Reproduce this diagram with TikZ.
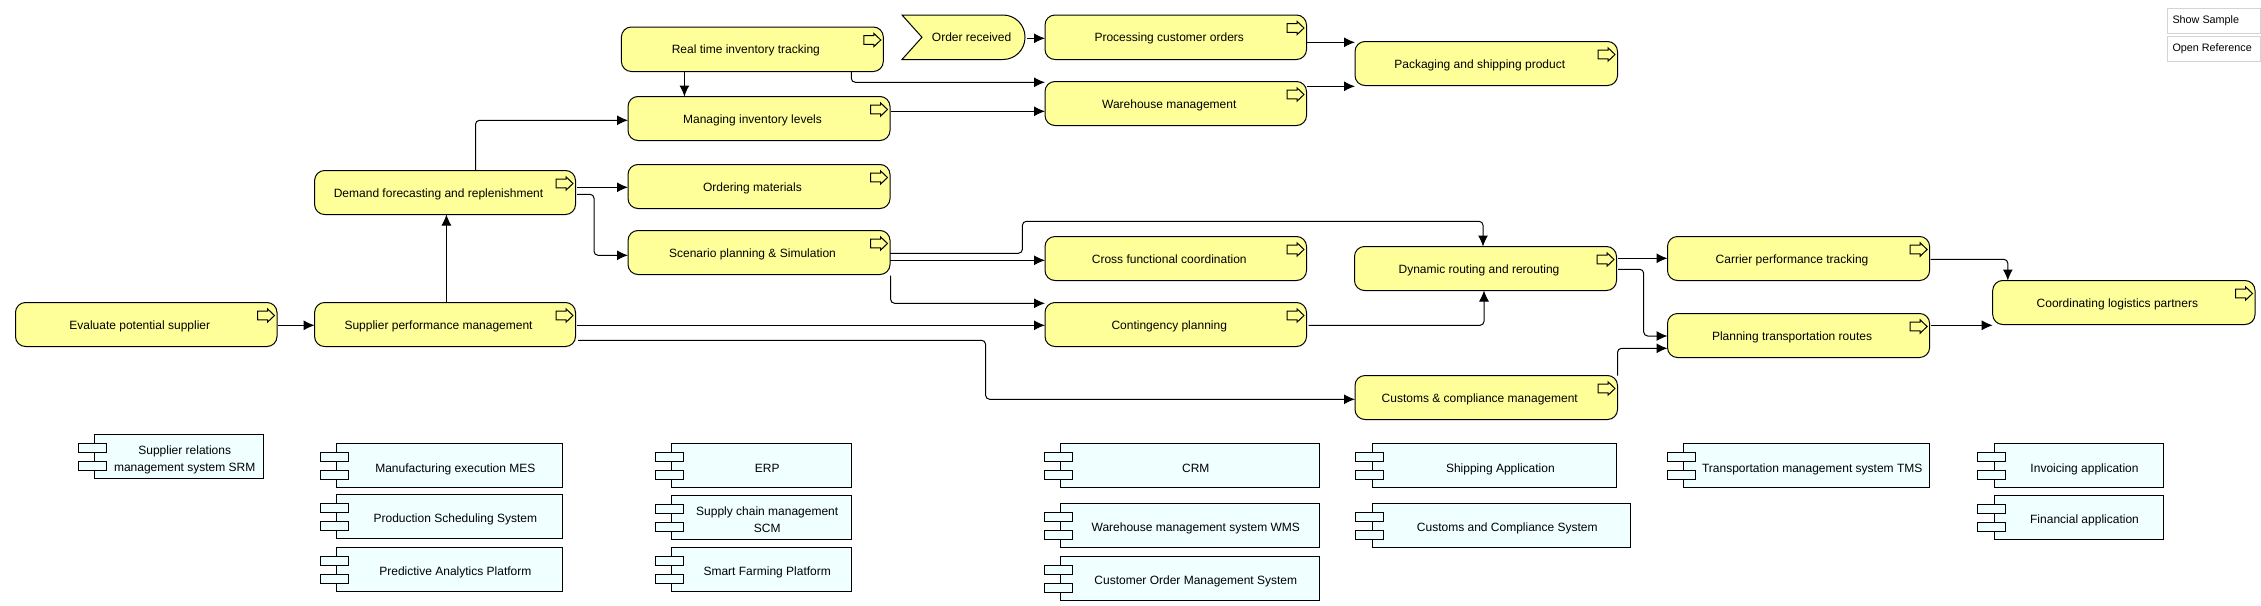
\documentclass[tikz,border=0pt]{standalone}
\usepackage{fontspec}
\setmainfont{Liberation Sans}
\usetikzlibrary{arrows.meta}
\definecolor{procfill}{HTML}{FFFF99}
\definecolor{compfill}{HTML}{F0FFFF}
\definecolor{btnline}{HTML}{D4D4D4}
\tikzset{
  every node/.style={inner sep=0pt,outer sep=0pt},
  shapeline/.style={draw=black,line width=1pt},
  procbox/.style={shapeline,fill=procfill,rounded corners=10pt,anchor=north west},
  compbox/.style={shapeline,fill=compfill,anchor=north west},
  tabrect/.style={shapeline,fill=compfill},
  lbl/.style={font=\fontsize{12}{17.5}\selectfont,align=center,text=black},
  flow/.style={line width=1pt,rounded corners=4pt,-{Latex[length=11pt,width=10pt]}},
  btn/.style={draw=btnline,line width=1pt,fill=white,anchor=north west,minimum width=93pt,minimum height=25pt,font=\fontsize{10.8}{13}\selectfont}
}
\newcommand{\procicon}[1]{%
  \begin{scope}[shift={(#1.north east)}]
    \draw[shapeline,fill=procfill] (-19.5,8.7) -- (-9.5,8.7) -- (-9.5,6.3) -- (-2.5,13) -- (-9.5,19.7) -- (-9.5,17.3) -- (-19.5,17.3) -- cycle;
  \end{scope}}
\newcommand{\proc}[6]{%
  \node[procbox,minimum width=#4-#2,minimum height=#5-#3] (#1) at (#2,#3) {};
  \node[lbl] (#1-t) at ([xshift=-6.5pt,yshift=-1pt]#1.center) {#6\strut};
  \procicon{#1}}
\newcommand{\comp}[6]{%
  \node[compbox,minimum width=#4-#2,minimum height=#5-#3] (#1) at (#2,#3) {};
  \begin{scope}[shift={(#1.north west)}]
    \draw[tabrect] (-16.3,9) rectangle (11.8,18);
    \draw[tabrect] (-16.3,27) rectangle (11.8,36);
  \end{scope}
  \node[lbl] (#1-t) at ([xshift=6pt,yshift=-3pt]#1.center) {#6\strut};}
\begin{document}
\begin{tikzpicture}[x=1pt,y=-1pt]
\useasboundingbox (0,0) rectangle (2261,605);
\proc{eva}{15.5}{302.5}{277}{346.5}{Evaluate potential supplier}
\proc{sup}{314.6}{302.5}{575.5}{346.5}{Supplier performance management}
\proc{dem}{314.6}{170.5}{575.5}{214.5}{Demand forecasting and replenishment}
\proc{rea}{621.4}{27}{883.3}{71.5}{Real time inventory tracking}
\proc{man}{628}{96.5}{890}{140.5}{Managing inventory levels}
\proc{ord}{628}{164.5}{890}{208.5}{Ordering materials}
\proc{sce}{628}{230.5}{890}{274.5}{Scenario planning \& Simulation}
\proc{pro}{1045}{15}{1306.5}{59.5}{Processing customer orders}
\proc{war}{1045}{81.5}{1306.5}{125.5}{Warehouse management}
\proc{pac}{1355}{41.5}{1617.5}{85.5}{Packaging and shipping product}
\proc{cro}{1045}{236.5}{1306.5}{280.5}{Cross functional coordination}
\proc{con}{1045}{302.5}{1306.5}{346.5}{Contingency planning}
\proc{dyn}{1354.5}{246.5}{1616.5}{290.5}{Dynamic routing and rerouting}
\proc{cus}{1355}{375.5}{1617.5}{419.5}{Customs \& compliance management}
\proc{car}{1667.5}{236.5}{1929.6}{280.5}{Carrier performance tracking}
\proc{pla}{1667.5}{313.5}{1929.6}{357.5}{Planning transportation routes}
\proc{coo}{1992.7}{280.5}{2255}{324.5}{Coordinating logistics partners}
% business event
\node[anchor=north west,minimum width=123,minimum height=44.5] (evt) at (902,15) {};
\draw[shapeline,fill=procfill] (evt.north west) [rounded corners=22pt] -- (evt.north east) -- (evt.south east) [sharp corners] -- (evt.south west) -- (922,37.25) -- cycle;
\node[lbl] (evt-t) at (971.6,38.25) {Order received\strut};
% connectors
\draw[flow] ([xshift=1pt]eva.east |- 0,325.3) -- (sup.west |- 0,325.3);
\draw[flow] (446.4,0 |- sup.north) -- (446.4,0 |- dem.south);
\draw[flow] (475.5,0 |- dem.north) |- (man.west |- 0,120.3);
\draw[flow] ([xshift=1.5pt]dem.east |- 0,187.3) -- (ord.west |- 0,187.3);
\draw[flow] ([xshift=1.5pt]dem.east |- 0,194.3) -- (594,194.3) -- (594,255.3) -- (sce.west |- 0,255.3);
\draw[flow] (684.4,0 |- rea.south) -- (684.4,0 |- man.north);
\draw[flow] (851.3,0 |- rea.south) |- (war.west |- 0,82.3);
\draw[flow] ([xshift=1pt]man.east |- 0,111.3) -- (war.west |- 0,111.3);
\draw[flow] ([xshift=2pt]evt.east |- 0,38.3) -- (pro.west |- 0,38.3);
\draw[flow] (pro.east |- 0,42.3) -- (pac.west |- 0,42.3);
\draw[flow] (war.east |- 0,86.3) -- (pac.west |- 0,86.3);
\draw[flow] (sce.east |- 0,253.3) -- (1022.4,253.3) -- (1022.4,221.3) -- (1483,221.3) -- (1483,0 |- dyn.north);
\draw[flow] (sce.east |- 0,260.3) -- (cro.west |- 0,260.3);
\draw[flow] (890.6,275.5) |- (con.west |- 0,303.3);
\draw[flow] ([xshift=1pt]sup.east |- 0,325.3) -- (con.west |- 0,325.3);
\draw[flow] ([xshift=2.5pt]sup.east |- 0,340.3) -- (985.6,340.3) -- (985.6,399.3) -- (cus.west |- 0,399.3);
\draw[flow] ([xshift=2pt]con.east |- 0,325.3) -| (1484,0 |- dyn.south);
\draw[flow] ([xshift=1.5pt]dyn.east |- 0,258.3) -- (car.west |- 0,258.3);
\draw[flow] ([xshift=1.5pt]dyn.east |- 0,269.3) -- (1643.7,269.3) -- (1643.7,336) -- (pla.west |- 0,336);
\draw[flow] (1617.5,0 |- cus.north) |- (pla.west |- 0,348.3);
\draw[flow] ([xshift=1pt]car.east |- 0,259.3) -| (2007.8,0 |- coo.north);
\draw[flow] ([xshift=1pt]pla.east |- 0,325.3) -- (coo.west |- 0,325.3);
% components
\comp{srm}{94.4}{434.5}{263}{478.7}{Supplier relations\strut\\management system SRM}
\comp{mes}{336.7}{443.5}{562}{487.7}{Manufacturing execution MES}
\comp{psy}{336.7}{494.3}{562}{538.3}{Production Scheduling System}
\comp{pap}{336.7}{547.3}{562}{591.3}{Predictive Analytics Platform}
\comp{erp}{671.4}{443.5}{851}{487.7}{ERP}
\comp{scm}{671.4}{495.3}{851}{539.3}{Supply chain management\strut\\SCM}
\comp{sfp}{671.4}{547.3}{851}{591.3}{Smart Farming Platform}
\comp{crm}{1060.6}{443.5}{1319}{487.7}{CRM}
\comp{wms}{1060.6}{503.3}{1319}{547.3}{Warehouse management system WMS}
\comp{cms}{1060.6}{556.3}{1319}{600.3}{Customer Order Management System}
\comp{shi}{1372}{443.5}{1616.8}{487.7}{Shipping Application}
\comp{ccs}{1372}{503.3}{1630.6}{547.3}{Customs and Compliance System}
\comp{tms}{1683.4}{443.5}{1929}{487.7}{Transportation management system TMS}
\comp{inv}{1994}{443.5}{2163}{487.7}{Invoicing application}
\comp{fin}{1994}{495.3}{2163}{539.3}{Financial application}
% buttons
\node[btn] (bshow) at (2167,8.5) {\makebox[82pt][l]{\raisebox{-1.5pt}{Show Sample}}};
\node[btn] (bopen) at (2167,36.5) {\makebox[82pt][l]{\raisebox{-1.5pt}{Open Reference}}};
\end{tikzpicture}
\end{document}
